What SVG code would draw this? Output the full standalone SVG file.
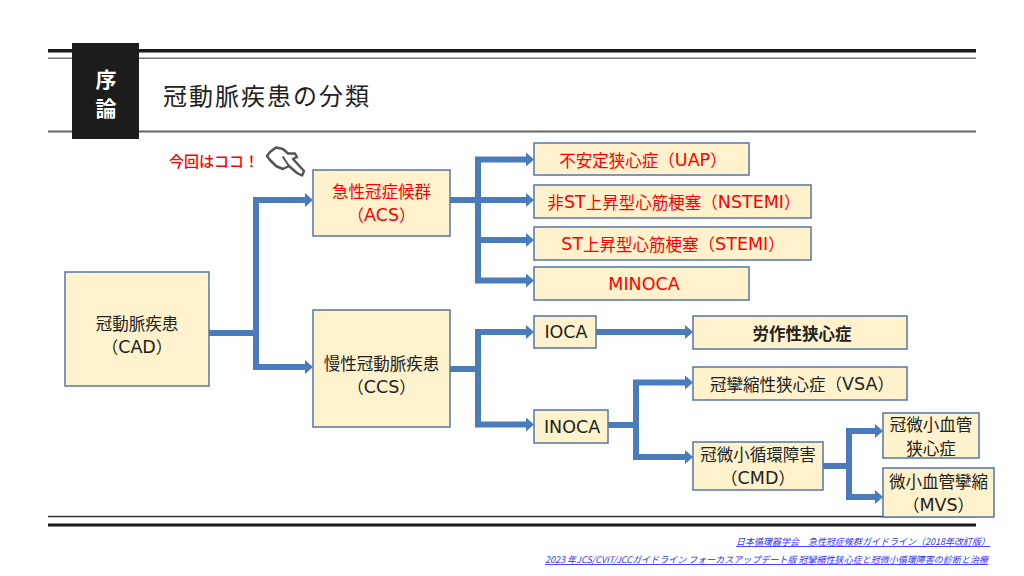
<svg xmlns="http://www.w3.org/2000/svg" width="1024" height="576" viewBox="0 0 1024 576">
<style>
text{font-family:"Noto Sans CJK JP","Noto Sans",sans-serif;}
.box{fill:#FFF2CC;stroke:#5577A3;stroke-width:1.5;}
.t{font-size:16.5px;fill:#222;text-anchor:middle;dominant-baseline:central;}
.l{font-family:"DejaVu Sans","Noto Sans",sans-serif;font-size:17.5px;}
.r{fill:#FF0000;}
.b{font-weight:bold;}
.con path{fill:none;stroke:#4A7BBB;stroke-width:6;stroke-linejoin:miter;}
.foot{font-size:9px;fill:#3333EE;font-style:italic;text-decoration:underline;text-anchor:end;}
</style>
<defs>
<marker id="ah" markerUnits="userSpaceOnUse" markerWidth="9" markerHeight="14" refX="0" refY="7" orient="auto">
<path d="M0,0 L8,7 L0,14 z" fill="#4A7BBB"/>
</marker>
</defs>
<rect width="1024" height="576" fill="#fff"/>
<g id="header">
<rect x="48" y="49" width="928" height="3.5" fill="#1a1a1a"/>
<rect x="48" y="57.5" width="928" height="1.5" fill="#777"/>
<rect x="48" y="130.5" width="928" height="2" fill="#666"/>
<rect x="72" y="43" width="67" height="96" fill="#1c1c1c"/>
<text x="106" y="78" font-size="21" font-weight="bold" fill="#fff" text-anchor="middle" dominant-baseline="central">序</text>
<text x="106" y="107" font-size="21" font-weight="bold" fill="#fff" text-anchor="middle" dominant-baseline="central">論</text>
<text x="163" y="94" font-size="24" letter-spacing="2" fill="#222" dominant-baseline="central">冠動脈疾患の分類</text>
</g>
<g id="footer-lines">
<rect x="48" y="515.8" width="928" height="1.5" fill="#333"/>
<rect x="48" y="523.5" width="928" height="3" fill="#1a1a1a"/>
</g>
<g id="pointer">
<text x="169" y="160" font-size="15" font-weight="500" fill="#FF0000" dominant-baseline="central">今回はココ！</text>
<path d="M270,152 L276,147.5 L283,149 L288,153.5 L295,153.5 L297,157 L293,159 L304,171 L302,175.5 L297,173 L289,166 L283,169 L276,166 L270,160 L267,156 z" fill="#fff" stroke="#555" stroke-width="2.5" stroke-linejoin="round"/>
<path d="M283,157 L289,166" fill="none" stroke="#555" stroke-width="2" stroke-linecap="round"/>
</g>
<g class="con" id="connectors">
<path d="M209,333 H256 V200 H305" marker-end="url(#ah)"/>
<path d="M256,330 V367 H305" marker-end="url(#ah)"/>
<path d="M450,200 H478 V159.5 H526" marker-end="url(#ah)"/>
<path d="M478,200 H526" marker-end="url(#ah)"/>
<path d="M478,197 V240 H526" marker-end="url(#ah)"/>
<path d="M478,237 V280.5 H526" marker-end="url(#ah)"/>
<path d="M450,369 H478 V332 H526" marker-end="url(#ah)"/>
<path d="M478,366 V424.5 H526" marker-end="url(#ah)"/>
<path d="M596,332 H685" marker-end="url(#ah)"/>
<path d="M608,425 H636 V382.5 H685" marker-end="url(#ah)"/>
<path d="M636,422 V457 H685" marker-end="url(#ah)"/>
<path d="M823,466 H849 V431 H875" marker-end="url(#ah)"/>
<path d="M849,463 V497 H875" marker-end="url(#ah)"/>
</g>
<g id="cad"><rect class="box" x="65" y="272" width="144" height="114"/>
<text class="t" x="137" y="323">冠動脈疾患</text><text class="t" x="137" y="347">（<tspan class="l">CAD</tspan>）</text></g>
<g id="acs"><rect class="box" x="313" y="170" width="137" height="66"/>
<text class="t r" x="381.5" y="191">急性冠症候群</text><text class="t r" x="381.5" y="215">（<tspan class="l">ACS</tspan>）</text></g>
<g id="ccs"><rect class="box" x="313" y="310" width="137" height="117"/>
<text class="t" x="381.5" y="363">慢性冠動脈疾患</text><text class="t" x="381.5" y="387">（<tspan class="l">CCS</tspan>）</text></g>
<g id="uap"><rect class="box" x="534" y="143" width="215" height="32"/>
<text class="t r" x="643" y="159.5">不安定狭心症（<tspan class="l">UAP</tspan>）</text></g>
<g id="nstemi"><rect class="box" x="534" y="185" width="277" height="33"/>
<text class="t r" x="674" y="201.5">非<tspan class="l">ST</tspan>上昇型心筋梗塞（<tspan class="l">NSTEMI</tspan>）</text></g>
<g id="stemi"><rect class="box" x="534" y="227" width="277" height="33"/>
<text class="t r" x="673" y="243.5"><tspan class="l">ST</tspan>上昇型心筋梗塞（<tspan class="l">STEMI</tspan>）</text></g>
<g id="minoca"><rect class="box" x="534" y="267" width="215" height="33"/>
<text class="t r" x="644" y="283.5"><tspan class="l">MINOCA</tspan></text></g>
<g id="ioca"><rect class="box" x="534" y="316" width="62" height="32"/>
<text class="t" x="566" y="332"><tspan class="l">IOCA</tspan></text></g>
<g id="effort"><rect class="box" x="693" y="316" width="214" height="33"/>
<text class="t b" x="802" y="332.5">労作性狭心症</text></g>
<g id="inoca"><rect class="box" x="534" y="410" width="74" height="33"/>
<text class="t" x="572" y="426.5"><tspan class="l">INOCA</tspan></text></g>
<g id="vsa"><rect class="box" x="693" y="367" width="214" height="33"/>
<text class="t" x="802" y="383.5">冠攣縮性狭心症（<tspan class="l">VSA</tspan>）</text></g>
<g id="cmd"><rect class="box" x="693" y="442" width="130" height="48"/>
<text class="t" x="758" y="454">冠微小循環障害</text><text class="t" x="758" y="478">（<tspan class="l">CMD</tspan>）</text></g>
<g id="cmva"><rect class="box" x="883" y="413" width="96" height="45"/>
<text class="t" x="931" y="424">冠微小血管</text><text class="t" x="931" y="448">狭心症</text></g>
<g id="mvs"><rect class="box" x="883" y="468" width="111" height="49"/>
<text class="t" x="938.5" y="481">微小血管攣縮</text><text class="t" x="938.5" y="505">（<tspan class="l">MVS</tspan>）</text></g>
<g id="refs">
<text class="foot" x="990" y="545" textLength="254" lengthAdjust="spacingAndGlyphs">日本循環器学会　急性冠症候群ガイドライン（2018年改訂版）</text>
<text class="foot" x="988" y="563" textLength="443" lengthAdjust="spacingAndGlyphs">2023 年JCS/CVIT/JCCガイドライン フォーカスアップデート版 冠攣縮性狭心症と冠微小循環障害の診断と治療</text>
</g>
</svg>
